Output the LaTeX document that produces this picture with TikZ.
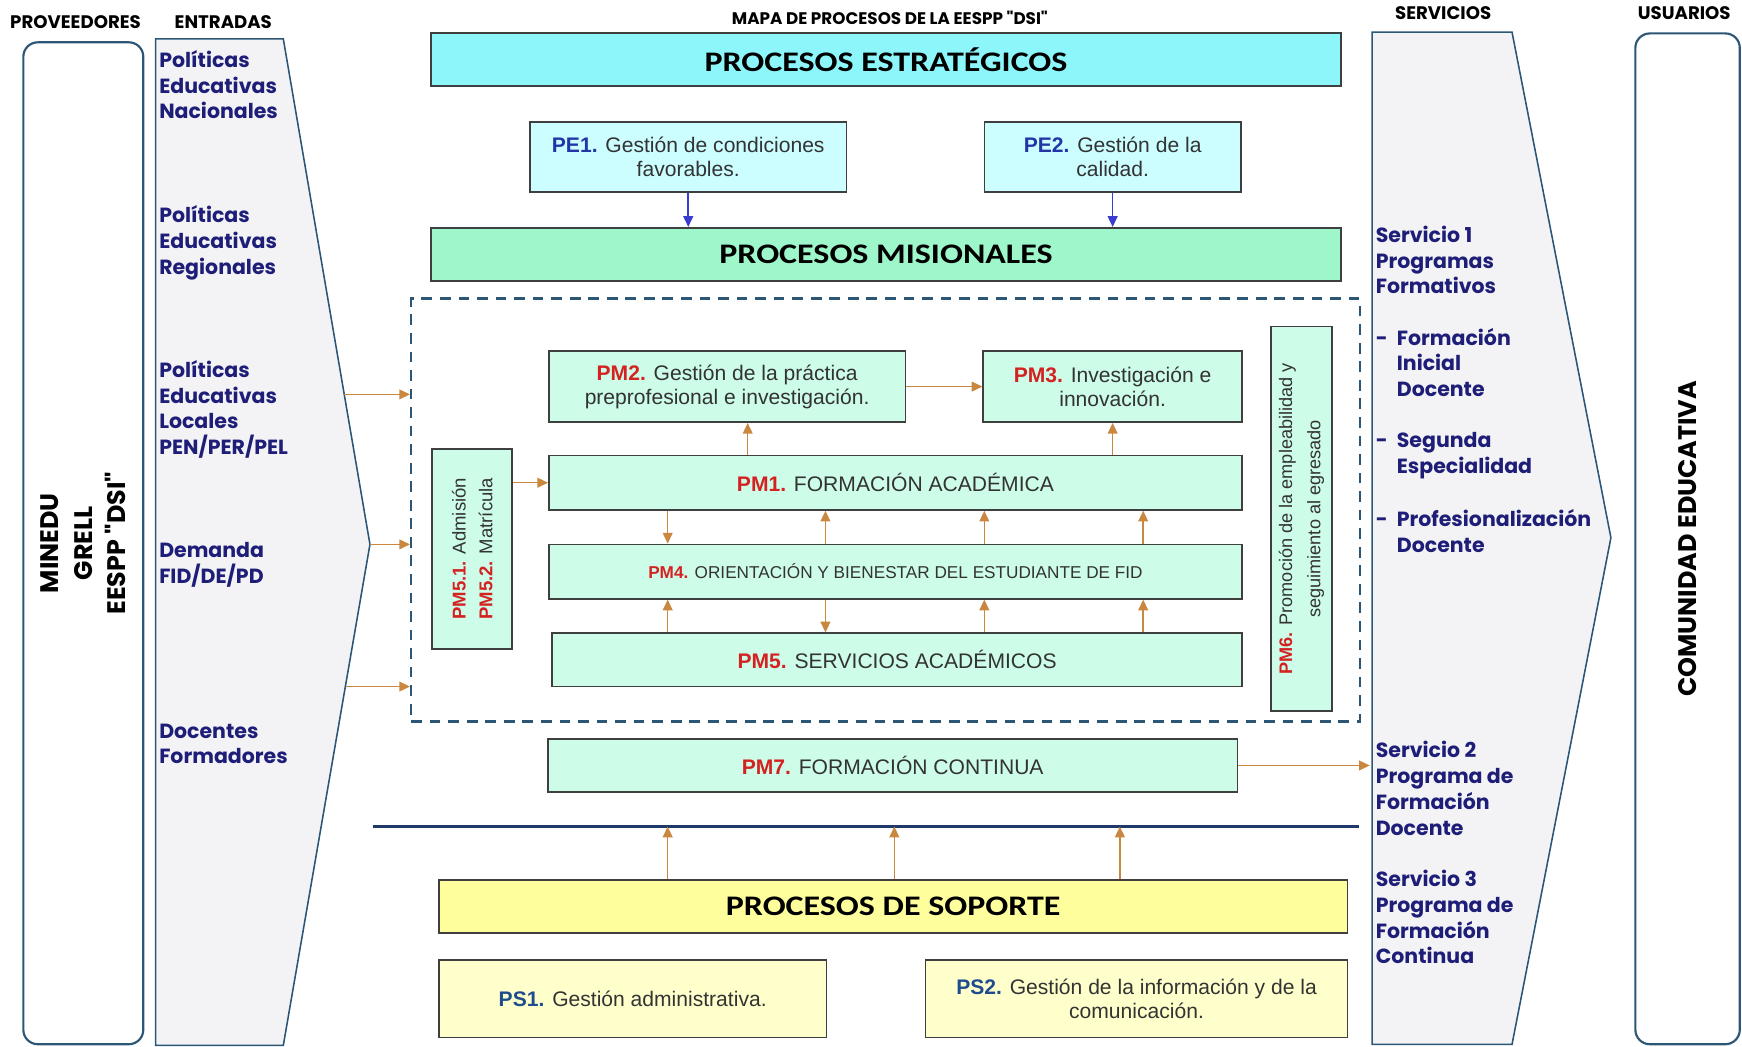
\documentclass[tikz,border=0pt]{standalone}
\usepackage{fontspec}
\setmainfont{Liberation Sans}
\newfontfamily\comic{Poppins}
\newfontfamily\titulo{Carlito}[FakeStretch=1.2]
\usetikzlibrary{arrows.meta}

\definecolor{azulborde}{HTML}{2B5676}
\definecolor{grisborde}{HTML}{3F3F3F}
\definecolor{naranja}{HTML}{C9873F}
\definecolor{azulflecha}{HTML}{3B3BD0}
\definecolor{rojopm}{HTML}{D42222}
\definecolor{azulpe}{HTML}{2236A8}
\definecolor{azulps}{HTML}{1E4C8E}
\definecolor{tinta}{HTML}{1E1E78}
\definecolor{cian}{HTML}{8DF6FB}
\definecolor{cianclaro}{HTML}{CCFEFF}
\definecolor{menta}{HTML}{9EF7CA}
\definecolor{mentaclara}{HTML}{CDFCE8}
\definecolor{amarillo}{HTML}{FEFE9C}
\definecolor{amarilloclaro}{HTML}{FFFFCC}
\definecolor{grisfondo}{HTML}{F3F3F5}
\definecolor{linea}{HTML}{1F3A68}
\definecolor{textogris}{HTML}{333333}

\newcommand\etqr[1]{\textbf{\color{rojopm}#1}}
\newcommand\etqa[1]{\textbf{\color{azulpe}#1}}
\newcommand\etqs[1]{\textbf{\color{azulps}#1}}
\newcommand\guion{\makebox[0.38cm][l]{-}}
\newcommand\sangria{\hspace*{0.38cm}}

\tikzset{
  caja/.style={draw=grisborde, line width=0.8pt, inner sep=0pt, align=center, text=textogris, font=\fontsize{10.8}{12.4}\selectfont},
  titulo/.style={caja, text=black, font=\titulo\bfseries\fontsize{14.5}{17}\selectfont},
  lado/.style={draw=azulborde, line width=1.1pt, rounded corners=0.26cm, rotate=90, align=center, font=\comic\bfseries\fontsize{13}{17}\selectfont},
  entrada/.style={anchor=north west, inner sep=0pt, align=left, text=tinta, font=\comic\bfseries\fontsize{10.5}{13.2}\selectfont, execute at begin node=\strut},
  cabecera/.style={inner sep=0pt, font=\comic\bfseries\fontsize{9.3}{11}\selectfont},
  zona/.style={draw=azulborde, line width=1.2pt, dash pattern=on 5.5pt off 4pt},
  flecha/.style={naranja, line width=0.8pt, -{Triangle[length=5.5pt,width=5pt]}},
  flechaazul/.style={flecha, azulflecha}
}

\begin{document}
\begin{tikzpicture}[x=0.02cm,y=-0.02cm]
\useasboundingbox (0,0) rectangle (1568,942);

\node[cabecera] (hprov) at (68,20) {PROVEEDORES};
\node[cabecera] (hent) at (201,20) {ENTRADAS};
\node[cabecera, font=\comic\bfseries\fontsize{8.6}{10}\selectfont] (hmapa) at (801,16) {MAPA DE PROCESOS DE LA EESPP "DSI"};
\node[cabecera] (hserv) at (1299,12) {SERVICIOS};
\node[cabecera] (husu) at (1516,12) {USUARIOS};

\node[lado, minimum width=18.04cm, minimum height=2.16cm] (prov) at (75,489) {MINEDU\\GRELL\\EESPP "DSI"};
\node[lado, minimum width=18.2cm, minimum height=1.88cm] (usu) at (1519,485) {COMUNIDAD EDUCATIVA};

\draw[draw=azulborde, fill=grisfondo, line width=0.8pt] (140,35) -- (255,35) -- (333,490) -- (255,941) -- (140,941) -- cycle;
\draw[draw=azulborde, fill=grisfondo, line width=0.8pt] (1235,29) -- (1361,29) -- (1450,484) -- (1361,940) -- (1235,940) -- cycle;
\coordinate (s1) at (310,355);
\coordinate (s2) at (333,490);
\coordinate (s3) at (311,618);
\coordinate (serv) at (1233,489);

\node[entrada] (en1) at (143,45) {Políticas\\Educativas\\Nacionales};
\node[entrada] (en2) at (143,185) {Políticas\\Educativas\\Regionales};
\node[entrada] (en3) at (143,324) {Políticas\\Educativas\\Locales\\PEN/PER/PEL};
\node[entrada] (en4) at (143,488) {Demanda\\FID/DE/PD};
\node[entrada] (en5) at (143,651) {Docentes\\Formadores};

\node[entrada] (sv1) at (1238,203) {Servicio 1\\Programas\\Formativos};
\node[entrada] (sv1a) at (1238,295) {\guion Formación\\\sangria Inicial\\\sangria Docente};
\node[entrada] (sv1b) at (1238,389) {\guion Segunda\\\sangria Especialidad};
\node[entrada] (sv1c) at (1238,458) {\guion Profesionalización\\\sangria Docente};
\node[entrada] (sv2) at (1238,667) {Servicio 2\\Programa de\\Formación\\Docente};
\node[entrada] (sv3) at (1238,783) {Servicio 3\\Programa de\\Formación\\Continua};

\node[titulo, fill=cian, minimum width=16.38cm, minimum height=0.96cm] (est) at (797.5,53.5) {PROCESOS ESTRATÉGICOS};
\node[caja, fill=cianclaro, minimum width=5.7cm, minimum height=1.26cm] (pe1) at (619.5,141.5) {\etqa{PE1.} Gestión de condiciones\\favorables.};
\node[caja, fill=cianclaro, minimum width=4.62cm, minimum height=1.26cm] (pe2) at (1001.5,141.5) {\etqa{PE2.} Gestión de la\\calidad.};
\node[titulo, fill=menta, minimum width=16.38cm, minimum height=0.96cm] (mis) at (797.5,229) {PROCESOS MISIONALES};
\draw[flechaazul] (pe1.south) -- (pe1.south |- mis.north);
\draw[flechaazul] (pe2.south) -- (pe2.south |- mis.north);

\node[zona, minimum width=17.08cm, minimum height=7.62cm] (zona) at (797,459) {};
\draw[flecha] (s1) -- (s1 -| zona.west);
\draw[flecha] (s2) -- (s2 -| zona.west);
\draw[flecha] (s3) -- (s3 -| zona.west);

\node[caja, fill=mentaclara, minimum width=6.42cm, minimum height=1.28cm] (pm2) at (654.5,348) {\etqr{PM2.} Gestión de la práctica\\preprofesional e investigación.};
\node[caja, fill=mentaclara, minimum width=4.66cm, minimum height=1.28cm] (pm3) at (1001.5,348) {\etqr{PM3.} Investigación e\\innovación.};
\node[caja, fill=mentaclara, minimum width=12.48cm, minimum height=0.98cm] (pm1) at (806,434.5) {\etqr{PM1.} FORMACIÓN ACADÉMICA};
\node[caja, fill=mentaclara, minimum width=12.48cm, minimum height=0.98cm, font=\fontsize{8.8}{10}\selectfont] (pm4) at (806,514.5) {\etqr{PM4.} ORIENTACIÓN Y BIENESTAR DEL ESTUDIANTE DE FID};
\node[caja, fill=mentaclara, minimum width=12.42cm, minimum height=0.96cm] (pm5) at (807.5,594) {\etqr{PM5.} SERVICIOS ACADÉMICOS};
\node[caja, fill=mentaclara, rotate=90, minimum width=3.6cm, minimum height=1.44cm, font=\fontsize{9.5}{13.7}\selectfont] (pm51) at (425,494) {\etqr{PM5.1.} Admisión\\\etqr{PM5.2.} Matrícula};
\node[caja, fill=mentaclara, rotate=90, minimum width=6.92cm, minimum height=1.1cm, font=\fontsize{9.3}{14.5}\selectfont] (pm6) at (1171.5,467) {\etqr{PM6.} Promoción de la empleabilidad y\\seguimiento al egresado};

\coordinate (c0) at (673,0);
\coordinate (c1) at (601,0);
\coordinate (c2) at (743,0);
\coordinate (c3) at (886,0);
\coordinate (c4) at (1029,0);
\coordinate (c5) at (805,0);
\coordinate (c6) at (1008,0);

\draw[flecha] (pm2) -- (pm3);
\draw[flecha] (pm1.north -| c0) -- (pm2.south -| c0);
\draw[flecha] (pm1.north -| pm3) -- (pm3.south);
\draw[flecha] (pm51.south |- pm1) -- (pm1.west);
\draw[flecha] (pm1.south -| c1) -- (pm4.north -| c1);
\draw[flecha] (pm4.north -| c2) -- (pm1.south -| c2);
\draw[flecha] (pm4.north -| c3) -- (pm1.south -| c3);
\draw[flecha] (pm4.north -| c4) -- (pm1.south -| c4);
\draw[flecha] (pm5.north -| c1) -- (pm4.south -| c1);
\draw[flecha] (pm4.south -| c2) -- (pm5.north -| c2);
\draw[flecha] (pm5.north -| c3) -- (pm4.south -| c3);
\draw[flecha] (pm5.north -| c4) -- (pm4.south -| c4);

\node[caja, fill=mentaclara, minimum width=12.42cm, minimum height=0.96cm] (pm7) at (803.5,689) {\etqr{PM7.} FORMACIÓN CONTINUA};
\draw[flecha] (pm7.east) -- (pm7.east -| serv);

\coordinate (l1) at (336,744);
\coordinate (l2) at (1223,744);
\draw[linea, line width=1.4pt] (l1) -- (l2);

\node[titulo, fill=amarillo, minimum width=16.36cm, minimum height=0.96cm] (sop) at (804,816) {PROCESOS DE SOPORTE};
\draw[flecha] (sop.north -| c1) -- (l1 -| c1);
\draw[flecha] (sop.north -| c5) -- (l1 -| c5);
\draw[flecha] (sop.north -| c6) -- (l1 -| c6);

\node[caja, fill=amarilloclaro, minimum width=6.98cm, minimum height=1.4cm] (ps1) at (569.5,899) {\etqs{PS1.} Gestión administrativa.};
\node[caja, fill=amarilloclaro, minimum width=7.6cm, minimum height=1.4cm] (ps2) at (1023,899) {\etqs{PS2.} Gestión de la información y de la\\comunicación.};
\end{tikzpicture}
\end{document}
